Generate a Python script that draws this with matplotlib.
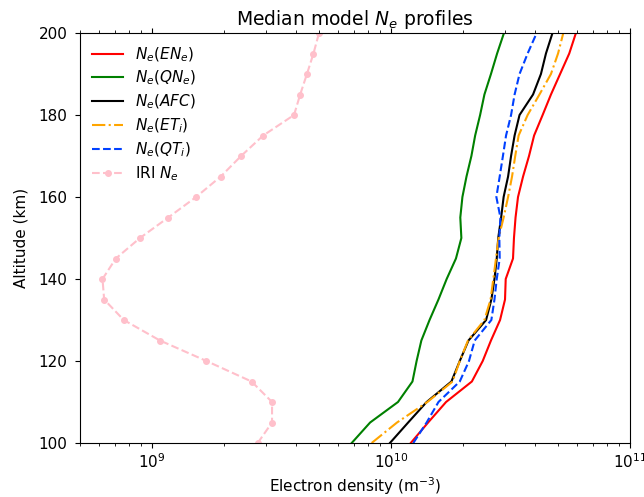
import numpy as np
import matplotlib
matplotlib.use('Agg')
import matplotlib.pyplot as plt

alt = np.arange(100, 201, 5)

ne_en = [1.21e10, 1.43e10, 1.70e10, 2.18e10, 2.42e10, 2.62e10, 2.86e10, 3.00e10, 3.02e10, 3.24e10, 3.27e10,
         3.32e10, 3.40e10, 3.57e10, 3.78e10, 3.97e10, 4.31e10, 4.67e10, 5.10e10, 5.57e10, 5.94e10]
ne_qn = [6.85e9, 8.18e9, 1.07e10, 1.23e10, 1.28e10, 1.34e10, 1.45e10, 1.58e10, 1.71e10, 1.87e10, 1.97e10,
         1.95e10, 1.99e10, 2.07e10, 2.17e10, 2.25e10, 2.36e10, 2.46e10, 2.62e10, 2.78e10, 2.97e10]
ne_afc = [9.9e9, 1.18e10, 1.41e10, 1.79e10, 1.94e10, 2.11e10, 2.50e10, 2.63e10, 2.71e10, 2.77e10, 2.81e10,
          2.89e10, 2.96e10, 3.09e10, 3.18e10, 3.29e10, 3.45e10, 3.93e10, 4.24e10, 4.45e10, 4.74e10]
ne_et = [8.3e9, 1.06e10, 1.42e10, 1.81e10, 1.94e10, 2.10e10, 2.46e10, 2.61e10, 2.68e10, 2.75e10, 2.82e10,
         2.96e10, 3.09e10, 3.21e10, 3.31e10, 3.42e10, 3.73e10, 4.18e10, 4.67e10, 5.00e10, 5.26e10]
ne_qt = [1.24e10, 1.41e10, 1.58e10, 1.94e10, 2.12e10, 2.24e10, 2.63e10, 2.71e10, 2.77e10, 2.85e10, 2.84e10,
         2.87e10, 2.76e10, 2.85e10, 2.94e10, 3.03e10, 3.18e10, 3.29e10, 3.45e10, 3.73e10, 4.07e10]
ne_iri = [2.77e9, 3.18e9, 3.18e9, 2.61e9, 1.69e9, 1.08e9, 7.62e8, 6.31e8, 6.21e8, 7.06e8, 8.91e8,
          1.17e9, 1.53e9, 1.94e9, 2.36e9, 2.92e9, 3.93e9, 4.17e9, 4.45e9, 4.74e9, 5.0e9]

plt.rcParams['font.size'] = 11

fig = plt.figure(figsize=(6.44, 4.97), dpi=100)
ax = fig.add_axes([80/644, 1-443/497, 550/644, 410/497])

ax.plot(ne_en, alt, color='red', label=r'$N_e(EN_e)$')
ax.plot(ne_qn, alt, color='green', label=r'$N_e(QN_e)$')
ax.plot(ne_afc, alt, color='black', label=r'$N_e(AFC)$')
ax.plot(ne_et, alt, color='orange', linestyle='-.', label=r'$N_e(ET_i)$')
ax.plot(ne_qt, alt, color='#0040ff', linestyle='--', label=r'$N_e(QT_i)$')
ax.plot(ne_iri, alt, color='pink', linestyle='--', marker='o', markersize=4, label=r'IRI $N_e$')

ax.set_xscale('log')
ax.set_xlim(5e8, 1e11)
ax.set_ylim(100, 200)
ax.tick_params(which='both', top=True)
ax.tick_params(axis='y', pad=5.5)
ax.set_title(r'Median model $N_e$ profiles', fontsize=13.5)
ax.set_xlabel(r'Electron density (m$^{-3}$)', labelpad=3)
ax.set_ylabel('Altitude (km)', labelpad=7)
ax.legend(loc='upper left', frameon=False, labelspacing=0.35, borderaxespad=0.4)

fig.savefig('out.png', dpi=100)
